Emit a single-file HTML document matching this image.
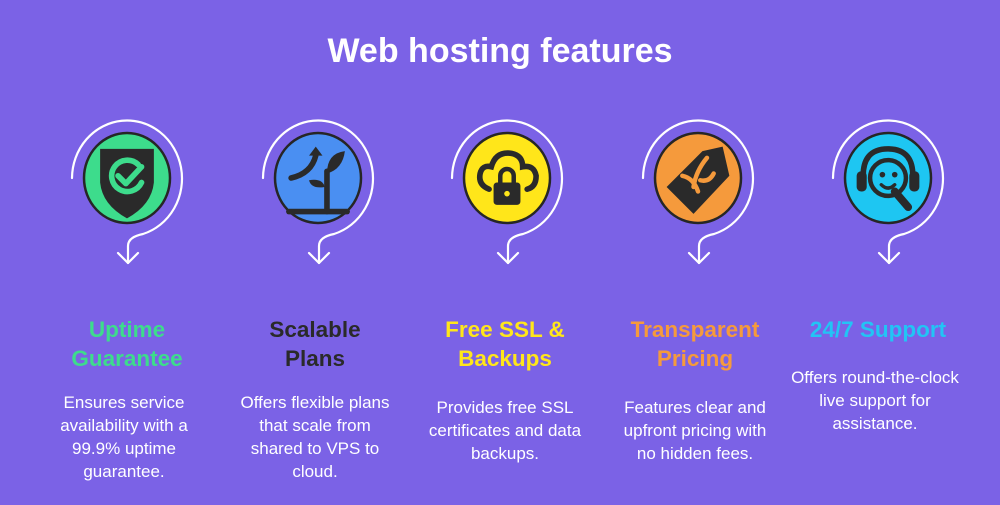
<!DOCTYPE html>
<html><head><meta charset="utf-8"><style>
html,body{margin:0;padding:0;}
body{width:1000px;height:500px;overflow:hidden;background:#7b62e6;}
svg text{font-family:"Liberation Sans",Arial,sans-serif;}
</style></head><body>
<svg width="1000" height="500" viewBox="0 0 1000 500" xmlns="http://www.w3.org/2000/svg">
<rect width="1000" height="500" fill="#7b62e6"/>
<text x="500" y="62" text-anchor="middle" font-size="34" font-weight="bold" fill="#fff">Web hosting features</text>

<defs>
<g id="ring" fill="none" stroke="#fff" stroke-width="2.2" stroke-linecap="round" stroke-linejoin="round">
<path d="M-55,0 A55,58 0 1 1 16,56 Q1,59 1,68 L1,85"/>
<path d="M-9,75 L1,85 L11,75"/>
</g>
</defs>

<!-- 1 -->
<g transform="translate(127,178)">
<use href="#ring"/>
<ellipse cx="0" cy="0" rx="43" ry="45" fill="#3ddc8c" stroke="#262626" stroke-width="2.5"/>
<g transform="scale(1.12)">
<path d="M-24,-26 L24,-26 L24,4 Q22,24 0,36 Q-22,24 -24,4 Z" fill="#2a2a2a"/>
<path d="M10,-12 A14,14 0 1 0 13,4" fill="none" stroke="#3ddc8c" stroke-width="5" stroke-linecap="round"/>
<path d="M-8,-2 L-1,5 L13,-10" fill="none" stroke="#3ddc8c" stroke-width="5" stroke-linecap="round" stroke-linejoin="round"/>
</g>
</g>
<!-- 2 -->
<g transform="translate(318,178)">
<use href="#ring"/>
<ellipse cx="0" cy="0" rx="43" ry="45" fill="#4a8ff2" stroke="#262626" stroke-width="2.5"/>
<g transform="scale(1.12)">
<path d="M-24,0 Q-6,-4 -2,-20" fill="none" stroke="#2a2a2a" stroke-width="5" stroke-linecap="round"/>
<path d="M-8,-20 L-2,-28 L4,-20 Z" fill="#2a2a2a"/>
<path d="M8,30 L8,-6" stroke="#2a2a2a" stroke-width="5" stroke-linecap="round"/>
<path d="M8,-4 Q8,-22 24,-24 Q22,-8 8,-4 Z" fill="#2a2a2a"/>
<path d="M6,8 Q-6,10 -8,2 Q4,0 6,8 Z" fill="#2a2a2a"/>
<path d="M-26,30 L26,30" stroke="#2a2a2a" stroke-width="5" stroke-linecap="round"/>
</g>
</g>
<!-- 3 -->
<g transform="translate(507,178)">
<use href="#ring"/>
<ellipse cx="0" cy="0" rx="43" ry="45" fill="#ffe61a" stroke="#262626" stroke-width="2.5"/>
<g transform="scale(1.12)">
<path d="M-16,10 Q-26,6 -24,-4 Q-22,-12 -14,-10 Q-10,-24 4,-22 Q14,-20 14,-10 Q24,-12 26,-2 Q26,8 18,10" fill="none" stroke="#2a2a2a" stroke-width="5" stroke-linecap="round"/>
<path d="M-6,4 L-6,-2 A6,6 0 0 1 6,-2 L6,4" fill="none" stroke="#2a2a2a" stroke-width="4"/>
<rect x="-12" y="4" width="24" height="20" rx="3" fill="#2a2a2a"/>
<circle cx="0" cy="14" r="2.5" fill="#ffe61a"/>
</g>
</g>
<!-- 4 -->
<g transform="translate(698,178)">
<use href="#ring"/>
<ellipse cx="0" cy="0" rx="43" ry="45" fill="#f59a3c" stroke="#262626" stroke-width="2.5"/>
<g transform="scale(1.12)">
<path d="M22,-28 L28,-2 L-4,32 L-28,8 L4,-24 Z" fill="#2a2a2a"/>
<path d="M8,-18 Q-2,-6 -4,8 M-14,-2 Q-4,0 0,12 M2,2 Q10,4 14,-4" fill="none" stroke="#f59a3c" stroke-width="4" stroke-linecap="round"/>
</g>
</g>
<!-- 5 -->
<g transform="translate(888,178)">
<use href="#ring"/>
<ellipse cx="0" cy="0" rx="43" ry="45" fill="#1ec6f2" stroke="#262626" stroke-width="2.5"/>
<g transform="scale(1.12)">
<path d="M-22,2 Q-24,-26 0,-26 Q24,-26 22,2" fill="none" stroke="#2a2a2a" stroke-width="5"/>
<rect x="-28" y="-6" width="9" height="18" rx="4" fill="#2a2a2a"/>
<rect x="19" y="-6" width="9" height="18" rx="4" fill="#2a2a2a"/>
<circle cx="0" cy="0" r="16" fill="none" stroke="#2a2a2a" stroke-width="4"/>
<circle cx="-5" cy="-3" r="2.5" fill="#2a2a2a"/><circle cx="6" cy="-3" r="2.5" fill="#2a2a2a"/>
<path d="M-6,6 Q0,12 6,6" fill="none" stroke="#2a2a2a" stroke-width="3" stroke-linecap="round"/>
<path d="M6,12 L18,26" stroke="#2a2a2a" stroke-width="7" stroke-linecap="round"/>
</g>
</g>

<g font-size="22.5" font-weight="bold" text-anchor="middle">
<text x="127" y="337" fill="#3ddc8c">Uptime</text>
<text x="127" y="366" fill="#3ddc8c">Guarantee</text>
<text x="315" y="337" fill="#2a2a2a">Scalable</text>
<text x="315" y="366" fill="#2a2a2a">Plans</text>
<text x="505" y="337" fill="#ffe61a">Free SSL &amp;</text>
<text x="505" y="366" fill="#ffe61a">Backups</text>
<text x="695" y="337" fill="#f59a3c">Transparent</text>
<text x="695" y="366" fill="#f59a3c">Pricing</text>
<text x="878" y="337" fill="#22c4f5">24/7 Support</text>
</g>
<g font-size="17" fill="#fff" text-anchor="middle">
<text x="124" y="408">Ensures service</text>
<text x="124" y="431">availability with a</text>
<text x="124" y="454">99.9% uptime</text>
<text x="124" y="477">guarantee.</text>
<text x="315" y="408">Offers flexible plans</text>
<text x="315" y="431">that scale from</text>
<text x="315" y="454">shared to VPS to</text>
<text x="315" y="477">cloud.</text>
<text x="505" y="413">Provides free SSL</text>
<text x="505" y="436">certificates and data</text>
<text x="505" y="459">backups.</text>
<text x="695" y="413">Features clear and</text>
<text x="695" y="436">upfront pricing with</text>
<text x="695" y="459">no hidden fees.</text>
<text x="875" y="383">Offers round-the-clock</text>
<text x="875" y="406">live support for</text>
<text x="875" y="429">assistance.</text>
</g>
</svg>
</body></html>
